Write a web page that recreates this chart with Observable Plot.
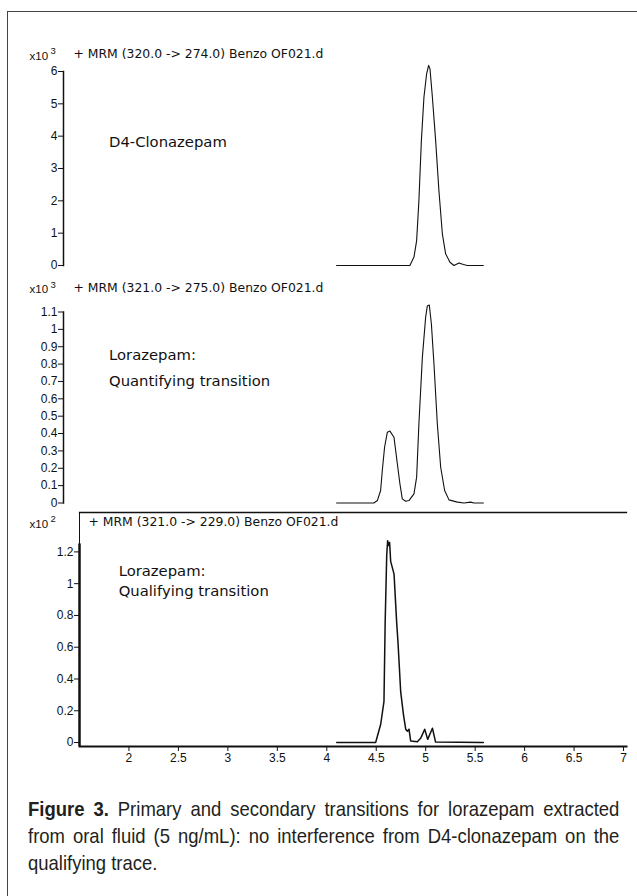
<!DOCTYPE html>
<html><head><meta charset="utf-8">
<script src="https://cdn.jsdelivr.net/npm/d3@7"></script>
<script src="https://cdn.jsdelivr.net/npm/@observablehq/plot@0.6"></script>
<style>
body{margin:0;background:#fff;}
#wrap{position:relative;width:637px;height:896px;overflow:hidden;background:#fff;}
#wrap svg{position:absolute;left:0;top:0;}
#frame{position:absolute;left:7px;top:11px;width:700px;height:900px;border-left:1.5px solid #444;border-top:1.5px solid #444;}
#caption{position:absolute;left:28px;top:795px;width:672px;transform:scaleX(0.88);transform-origin:0 0;font-family:"Liberation Sans",Arial,sans-serif;font-size:21px;line-height:27px;color:#231f20;}
#caption div{white-space:nowrap;}
#caption .j{text-align:justify;text-align-last:justify;}
</style></head><body><div id="wrap"><div id="frame"></div></div>
<script>
// ---- data ----
const xTicks = [2, 2.5, 3, 3.5, 4, 4.5, 5, 5.5, 6, 6.5, 7];

const titles = [
  "+ MRM (320.0 -> 274.0) Benzo OF021.d",
  "+ MRM (321.0 -> 275.0) Benzo OF021.d",
  "+ MRM (321.0 -> 229.0) Benzo OF021.d"
];
const exponents = ["3", "3", "2"];

const yTicks1 = [0, 1, 2, 3, 4, 5, 6];
const yTicks2 = [0, 0.1, 0.2, 0.3, 0.4, 0.5, 0.6, 0.7, 0.8, 0.9, 1, 1.1];
const yTicks3 = [0, 0.2, 0.4, 0.6, 0.8, 1, 1.2];

// Panel 1: D4-Clonazepam (x10^3 counts)
const time1 = [4.10, 4.841, 4.882, 4.909, 4.932, 4.957, 4.983, 5.010, 5.030, 5.044, 5.068, 5.101, 5.134, 5.169, 5.202, 5.246, 5.286, 5.337, 5.381, 5.422, 5.583];
const counts1 = [0, 0, 0.26, 0.77, 2.01, 3.87, 5.21, 5.93, 6.19, 6.08, 5.21, 3.87, 2.32, 0.98, 0.36, 0.10, 0, 0.08, 0.03, 0, 0];

// Panel 2: Lorazepam quantifying transition (x10^3 counts)
const time2 = [4.10, 4.477, 4.512, 4.545, 4.562, 4.585, 4.613, 4.639, 4.680, 4.714, 4.740, 4.764, 4.798, 4.831, 4.882, 4.909, 4.932, 4.967, 5.000, 5.017, 5.037, 5.058, 5.084, 5.118, 5.152, 5.192, 5.236, 5.321, 5.387, 5.455, 5.488, 5.583];
const counts2 = [0, 0, 0.014, 0.072, 0.187, 0.321, 0.408, 0.414, 0.379, 0.226, 0.111, 0.024, 0.010, 0.014, 0.053, 0.149, 0.456, 0.840, 1.070, 1.135, 1.140, 1.032, 0.802, 0.456, 0.206, 0.072, 0.018, 0.005, 0, 0.005, 0, 0];

// Panel 3: Lorazepam qualifying transition (x10^2 counts)
const time3 = [4.10, 4.494, 4.545, 4.578, 4.590, 4.606, 4.615, 4.625, 4.635, 4.646, 4.680, 4.707, 4.720, 4.747, 4.775, 4.798, 4.815, 4.831, 4.848, 4.916, 4.950, 4.990, 5.020, 5.068, 5.100, 5.583];
const counts3 = [0, 0, 0.115, 0.257, 0.75, 1.18, 1.27, 1.24, 1.26, 1.14, 1.06, 0.75, 0.63, 0.32, 0.176, 0.084, 0.071, 0.084, 0.01, 0.005, 0.028, 0.084, 0.02, 0.09, 0.003, 0];

const noteX = [1.80, 1.80, 1.896];
const notes = [
  [{t: "D4-Clonazepam", y: 3.8}],
  [{t: "Lorazepam:", y: 0.85}, {t: "Quantifying transition", y: 0.70}],
  [{t: "Lorazepam:", y: 1.077}, {t: "Qualifying transition", y: 0.95}]
];

const captionBold = "Figure 3.";
const captionLines = [
  " Primary and secondary transitions for lorazepam extracted",
  "from oral fluid (5 ng/mL): no interference from D4-clonazepam on the",
  "qualifying trace."
];

// ---- drawing ----
const H = 780;
const font = "'Liberation Sans', Arial, sans-serif";
const titleFont = "'DejaVu Sans', Verdana, sans-serif";
const fmt = d => String(+d.toFixed(2));
const wrap = document.getElementById("wrap");

function panel(i, opts) {
  const {time, counts, top, bottom, left, xMin, yDomain, yTicks, lineW, titleDy, titleDx, expDx, isLast} = opts;
  const data = time.map((t, k) => ({t, c: counts[k]}));
  const n = notes[i].map(d => ({...d, x: noteX[i]}));
  const marks = [
    Plot.line(data, {x: "t", y: "c", stroke: "#111", strokeWidth: lineW}),
    Plot.axisY({ticks: yTicks, tickSize: 5, tickPadding: 1, tickFormat: fmt, fontSize: 12, label: null, stroke: "#111"}),
    Plot.text(n, {x: "x", y: "y", text: "t", textAnchor: "start", fontSize: 14.8, fontFamily: titleFont, fill: "#111"}),
    Plot.text([titles[i]], {frameAnchor: "top-left", dx: titleDx, dy: titleDy, textAnchor: "start", fontSize: 12.4, fontFamily: titleFont, fill: "#111"}),
    Plot.text(["x10"], {frameAnchor: "top-left", dx: expDx, dy: titleDy + 2, textAnchor: "start", fontSize: 11.5, fill: "#111"}),
    Plot.text([exponents[i]], {frameAnchor: "top-left", dx: expDx + 21, dy: titleDy - 2, textAnchor: "start", fontSize: 9.5, fill: "#111"})
  ];
  if (!isLast) {
    marks.push(Plot.frame({anchor: "left", stroke: "#111", strokeWidth: 1.5}));
  } else {
    marks.push(
      Plot.frame({anchor: "top", stroke: "#111", strokeWidth: 1.3}),
      Plot.frame({anchor: "left", stroke: "#111", strokeWidth: 1}),
      Plot.ruleX([xMin], {y1: yDomain[0], y2: 1.25, stroke: "#111", strokeWidth: 2.5}),
      Plot.frame({anchor: "bottom", stroke: "#111", strokeWidth: 2}),
      Plot.axisX({ticks: xTicks, tickSize: 5, tickPadding: 2, tickFormat: fmt, fontSize: 12, label: null, stroke: "#111"})
    );
  }
  const svg = Plot.plot({
    width: 637, height: H,
    marginLeft: left, marginRight: 11, marginTop: top, marginBottom: H - bottom,
    style: {background: "transparent", overflow: "visible", fontFamily: font, color: "#111"},
    x: {domain: [xMin, 7.03], axis: isLast ? undefined : null},
    y: {domain: yDomain},
    marks
  });
  wrap.appendChild(svg);
}

panel(0, {time: time1, counts: counts1, top: 71, bottom: 265, left: 63, xMin: 1.34, yDomain: [0, 6], yTicks: yTicks1, lineW: 1.1, titleDx: 10, titleDy: -22, expDx: -34});
panel(1, {time: time2, counts: counts2, top: 311.5, bottom: 502.5, left: 63, xMin: 1.34, yDomain: [0, 1.1], yTicks: yTicks2, lineW: 1.1, titleDx: 10, titleDy: -29, expDx: -34});
panel(2, {time: time3, counts: counts3, top: 512, bottom: 746, left: 79, xMin: 1.5, yDomain: [-0.025, 1.448], yTicks: yTicks3, lineW: 1.5, titleDx: 9, titleDy: 5, expDx: -50, isLast: true});

const cap = document.createElement("div");
cap.id = "caption";
captionLines.forEach((line, k) => {
  const d = document.createElement("div");
  if (k < captionLines.length - 1) d.className = "j";
  if (k === 0) {
    const b = document.createElement("b");
    b.textContent = captionBold;
    d.appendChild(b);
  }
  d.appendChild(document.createTextNode(line));
  cap.appendChild(d);
});
wrap.appendChild(cap);
</script>
</body></html>
